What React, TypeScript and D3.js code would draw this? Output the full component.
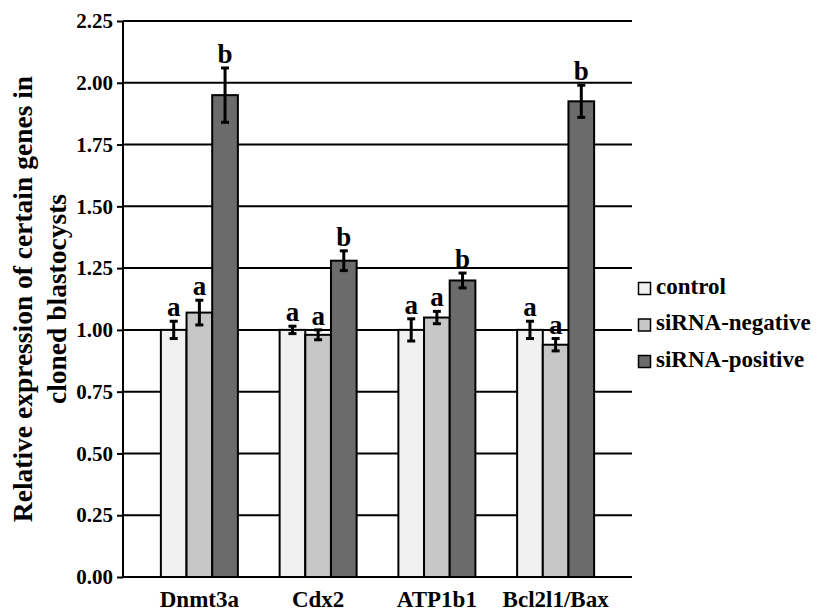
import React, { useEffect, useRef } from "react";
import { axisLeft, scaleBand, scaleLinear, select } from "d3";

const genes = ["Dnmt3a", "Cdx2", "ATP1b1", "Bcl2l1/Bax"];
const groups = ["control", "siRNA-negative", "siRNA-positive"];
const controlValues = [1.0, 1.0, 1.0, 1.0];
const controlErrors = [0.035, 0.015, 0.045, 0.035];
const negativeValues = [1.07, 0.98, 1.05, 0.94];
const negativeErrors = [0.05, 0.02, 0.025, 0.025];
const positiveValues = [1.95, 1.28, 1.2, 1.925];
const positiveErrors = [0.11, 0.04, 0.03, 0.065];
const controlLetters = ["a", "a", "a", "a"];
const negativeLetters = ["a", "a", "a", "a"];
const positiveLetters = ["b", "b", "b", "b"];
const yTicks = [0, 0.25, 0.5, 0.75, 1.0, 1.25, 1.5, 1.75, 2.0, 2.25];
const colors = ["#f1f1f1", "#c7c7c7", "#6b6b6b"];

const App = () => {
  const ref = useRef<SVGSVGElement>(null);

  useEffect(() => {
    const svg = select(ref.current);
    svg.selectAll("*").remove();
    const font = "Liberation Serif, Times New Roman, serif";

    const left = 123;
    const right = 632;
    const top = 21;
    const bottom = 577;
    const groupW = 77;

    const y = scaleLinear().domain([0, 2.25]).range([bottom, top]);
    const x = scaleBand().domain(genes).range([140, 615]);
    const inner = scaleBand<number>().domain([0, 1, 2]).range([0, groupW]);

    // gridlines
    svg
      .append("g")
      .selectAll("line")
      .data(yTicks)
      .join("line")
      .attr("x1", left)
      .attr("x2", right)
      .attr("y1", (d) => y(d))
      .attr("y2", (d) => y(d))
      .attr("stroke", "#000")
      .attr("stroke-width", 2);

    const series = [
      { values: controlValues, errors: controlErrors, letters: controlLetters },
      { values: negativeValues, errors: negativeErrors, letters: negativeLetters },
      { values: positiveValues, errors: positiveErrors, letters: positiveLetters },
    ];

    const barW = inner.bandwidth();
    series.forEach((s, si) => {
      const g = svg.append("g");
      const bx = (i: number) =>
        (x(genes[i]) as number) + (x.bandwidth() - groupW) / 2 + (inner(si) as number);

      g.selectAll("rect")
        .data(s.values)
        .join("rect")
        .attr("x", (d, i) => bx(i))
        .attr("y", (d) => y(d))
        .attr("width", barW)
        .attr("height", (d) => bottom - y(d))
        .attr("fill", colors[si])
        .attr("stroke", "#000")
        .attr("stroke-width", 2);

      // error bars + significance letters
      s.values.forEach((v, i) => {
        const cx = bx(i) + barW / 2;
        const e = s.errors[i];
        const eg = g.append("g").attr("stroke", "#000").attr("stroke-width", 3);
        eg.append("line")
          .attr("x1", cx)
          .attr("x2", cx)
          .attr("y1", y(v + e))
          .attr("y2", y(v - e));
        [v + e, v - e].forEach((t) =>
          eg
            .append("line")
            .attr("x1", cx - 4)
            .attr("x2", cx + 4)
            .attr("y1", y(t))
            .attr("y2", y(t))
        );
        g.append("text")
          .attr("x", cx)
          .attr("y", y(v + e) - 5)
          .attr("text-anchor", "middle")
          .style("font-family", font)
          .attr("font-weight", "bold")
          .attr("font-size", 27)
          .text(s.letters[i]);
      });
    });

    // y axis
    const yAxis = svg
      .append("g")
      .attr("transform", `translate(${left},0)`)
      .call(
        axisLeft(y)
          .tickValues(yTicks)
          .tickFormat((d) => (+d).toFixed(2))
          .tickSize(6)
          .tickSizeOuter(0)
          .tickPadding(4)
      );
    yAxis.select(".domain").attr("stroke-width", 2).attr("d", `M0,${top}V${bottom}`);
    yAxis.selectAll(".tick line").attr("stroke-width", 2);
    yAxis
      .selectAll(".tick text")
      .style("font-family", font)
      .attr("font-weight", "bold")
      .attr("font-size", 21)
      .attr("fill", "#000");

    // category labels
    svg
      .append("g")
      .selectAll("text")
      .data(genes)
      .join("text")
      .attr("x", (d) => (x(d) as number) + x.bandwidth() / 2)
      .attr("y", 607)
      .attr("text-anchor", "middle")
      .style("font-family", font)
      .attr("font-weight", "bold")
      .attr("font-size", 23)
      .text((d) => d);

    // y title
    const title = svg
      .append("text")
      .attr("transform", "translate(0,299) rotate(-90)")
      .attr("text-anchor", "middle")
      .style("font-family", font)
      .attr("font-weight", "bold")
      .attr("font-size", 27.5);
    title.append("tspan").attr("x", 0).attr("y", 32).text("Relative expression of certain genes in");
    title.append("tspan").attr("x", 0).attr("y", 66).text("cloned blastocysts");

    // legend
    const legend = svg.append("g");
    groups.forEach((gname, i) => {
      const ly = 288.5 + i * 36.5;
      legend
        .append("rect")
        .attr("x", 638.5)
        .attr("y", ly - 6)
        .attr("width", 12)
        .attr("height", 12)
        .attr("fill", colors[i])
        .attr("stroke", "#000")
        .attr("stroke-width", 1.5);
      legend
        .append("text")
        .attr("x", 656)
        .attr("y", ly + 5)
        .style("font-family", font)
        .attr("font-weight", "bold")
        .attr("font-size", 23)
        .text(gname);
    });
  }, []);

  return (
    <div style={{ position: "absolute", left: 0, top: 0 }}>
      <svg
        ref={ref}
        width={822}
        height={611}
        style={{ display: "block", background: "#fff", fontFamily: "Liberation Serif, serif" }}
      />
    </div>
  );
};

export default App;
